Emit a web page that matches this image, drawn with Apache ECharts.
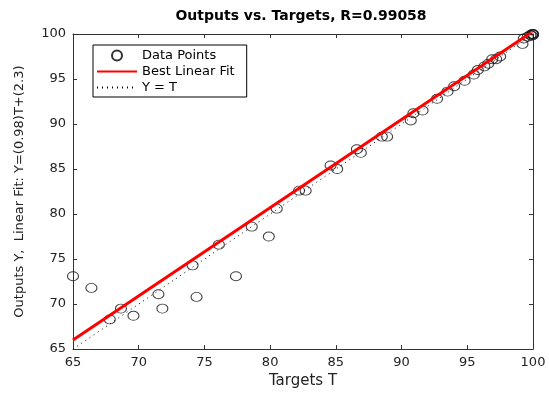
<!DOCTYPE html>
<html>
<head>
<meta charset="utf-8">
<script src="https://cdn.jsdelivr.net/npm/echarts@6/dist/echarts.min.js"></script>
<style>html,body{margin:0;padding:0;background:#fff}#c{width:549px;height:394px}</style>
</head>
<body>
<div id="c"></div>
<script>
var targets = [65.0, 66.4, 67.8, 68.65, 69.6, 71.5, 71.8, 74.1, 74.4, 76.1, 77.4, 78.6, 79.9, 80.5, 82.2, 82.7, 84.6, 85.1, 86.6, 86.9, 88.5, 88.9, 90.7, 90.9, 91.6, 92.7, 93.5, 94.0, 94.8, 95.5, 95.8, 96.3, 96.6, 96.9, 97.2, 97.5, 99.2, 99.3, 99.6, 99.8, 99.9, 100.0, 100.0, 99.95];
var outputs = [73.1, 71.8, 68.3, 69.5, 68.7, 71.1, 69.5, 74.3, 70.8, 76.6, 73.1, 78.6, 77.5, 80.6, 82.6, 82.6, 85.4, 85.0, 87.2, 86.8, 88.6, 88.6, 90.4, 91.2, 91.5, 92.8, 93.6, 94.2, 94.8, 95.5, 96.0, 96.4, 96.7, 97.2, 97.2, 97.5, 98.9, 99.5, 99.7, 99.9, 99.8, 100.0, 99.9, 100.0];
var fitX = [65, 100];
var fitY = [66.0, 100.3];
var idX = [65, 100];
var idY = [65, 100];
var xTicks = [65, 70, 75, 80, 85, 90, 95, 100];
var yTicks = [65, 70, 75, 80, 85, 90, 95, 100];

var pts = targets.map(function (t, i) { return [t, outputs[i]]; });
var fit = fitX.map(function (x, i) { return [x, fitY[i]]; });
var ident = idX.map(function (x, i) { return [x, idY[i]]; });

var axisCol = '#333';
var font = 'DejaVu Sans, Verdana, sans-serif';
function ax(pos, show, extra) {
  var a = {
    type: 'value', position: pos, min: xTicks[0], max: xTicks[xTicks.length - 1], interval: xTicks[1] - xTicks[0],
    axisLine: { show: true, onZero: false, lineStyle: { color: axisCol, width: 1 } },
    axisTick: { show: true, inside: true, length: 4, lineStyle: { color: axisCol } },
    splitLine: { show: false },
    axisLabel: { show: show, color: '#222', fontFamily: font, fontSize: 13 }
  };
  for (var k in extra) a[k] = extra[k];
  return a;
}
var chart = echarts.init(document.getElementById('c'));
chart.setOption({
  animation: false,
  title: {
    text: 'Outputs vs. Targets, R=0.99058', left: 296, top: 4, textAlign: 'center',
    textStyle: { fontFamily: font, fontSize: 14, fontWeight: 'bold', color: '#000' }
  },
  grid: { left: 73, right: 16, top: 34, bottom: 40 },
  legend: {
    orient: 'vertical', left: 93, top: 45,
    padding: [4, 12, 3, 3], itemGap: 3, itemWidth: 40, itemHeight: 10,
    borderColor: '#000', borderWidth: 1, backgroundColor: '#fff',
    textStyle: { fontFamily: font, fontSize: 13, color: '#000' },
    data: [
      { name: 'Data Points', icon: 'emptyCircle', itemStyle: { color: '#000', borderColor: '#000', borderWidth: 1 } },
      { name: 'Best Linear Fit', itemStyle: { opacity: 0 } },
      { name: 'Y = T', itemStyle: { opacity: 0 } }
    ]
  },
  xAxis: [
    ax('bottom', true, { name: 'Targets T', nameLocation: 'middle', nameGap: 24,
      nameTextStyle: { fontFamily: font, fontSize: 15, color: '#222' },
      axisLabel: { show: true, color: '#222', fontFamily: font, fontSize: 13, margin: 7 } }),
    ax('top', false, {})
  ],
  yAxis: [
    ax('left', true, { name: 'Outputs Y,  Linear Fit: Y=(0.98)T+(2.3)', nameLocation: 'middle', nameGap: 47,
      nameTextStyle: { fontFamily: font, fontSize: 13, color: '#222' },
      axisLabel: { show: true, color: '#222', fontFamily: font, fontSize: 13, margin: 7 } }),
    ax('right', false, {})
  ],
  series: [
    { name: 'Data Points', type: 'scatter', data: pts, symbol: 'circle', symbolSize: [11, 9], z: 3,
      itemStyle: { color: 'transparent', borderColor: '#111', borderWidth: 1 } },
    { name: 'Best Linear Fit', type: 'line', data: fit, showSymbol: false, symbol: 'none', clip: true, z: 4,
      lineStyle: { color: '#ff0000', width: 3 }, itemStyle: { color: '#ff0000' } },
    { name: 'Y = T', type: 'line', data: ident, showSymbol: false, symbol: 'none', z: 2,
      lineStyle: { color: '#000', width: 1, type: [1, 4] }, itemStyle: { color: '#000' } }
  ]
});
</script>
</body>
</html>
